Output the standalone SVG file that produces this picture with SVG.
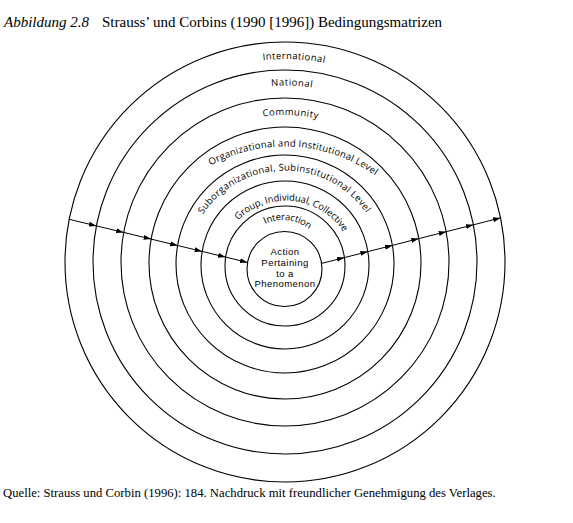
<svg xmlns="http://www.w3.org/2000/svg" width="573" height="523" viewBox="0 0 573 523">
<style>
.ring{fill:none;stroke:#000;stroke-width:1.1}
.lbl{font-family:"Open Sans","Noto Sans",sans-serif;font-size:9.5px;fill:#000}
.ctr{font-family:"Liberation Sans",Arial,sans-serif;font-size:9.5px;letter-spacing:0.45px;fill:#000;text-anchor:middle}
.cap{font-family:"Liberation Serif","Times New Roman",serif;fill:#000}
.conn{fill:none;stroke:#000;stroke-width:1;marker-mid:url(#ah);marker-end:url(#ah)}
</style>
<defs>
<marker id="ah" markerUnits="userSpaceOnUse" markerWidth="8" markerHeight="6" refX="7.5" refY="2.5" orient="auto">
<path d="M0,0 L7.5,2.5 L0,5 z" fill="#000"/>
</marker>
<path id="p8" d="M82,262 A203,203 0 0 1 488,262"/>
<path id="p7" d="M108.5,262 A176.5,176.5 0 0 1 461.5,262"/>
<path id="p6" d="M138,262 A147,147 0 0 1 432,262"/>
<path id="p5" d="M130,301.5 A155,155 0 0 1 440,301.5"/>
<path id="p4" d="M186,269.6 A99,99 0 0 1 384,269.6"/>
<path id="p3" d="M217.6,269 A68.4,68.4 0 0 1 354.4,269"/>
<path id="p2" d="M242,261 A41,41 0 0 1 324,261"/>
</defs>
<rect width="573" height="523" fill="#fff"/>
<text class="cap" x="4" y="27" font-size="15"><tspan font-style="italic">Abbildung 2.8</tspan><tspan x="102">Strauss’ und Corbins (1990 [1996]) Bedingungsmatrizen</tspan></text>

<g id="international">
<circle class="ring" cx="285" cy="262" r="220"/>
<text class="lbl" transform="rotate(2.5 285 262)"><textPath href="#p8" startOffset="50%" text-anchor="middle" textLength="62" lengthAdjust="spacing">International</textPath></text>
</g>
<g id="national">
<circle class="ring" cx="285" cy="262" r="192"/>
<text class="lbl" transform="rotate(2.2 285 262)"><textPath href="#p7" startOffset="50%" text-anchor="middle" textLength="41" lengthAdjust="spacing">National</textPath></text>
</g>
<g id="community">
<circle class="ring" cx="285" cy="262" r="164"/>
<text class="lbl" transform="rotate(2.1 285 262)"><textPath href="#p6" startOffset="50%" text-anchor="middle" textLength="55" lengthAdjust="spacing">Community</textPath></text>
</g>
<g id="organizational">
<circle class="ring" cx="285" cy="263" r="136"/>
<text class="lbl" transform="rotate(3.4 285 301.5)"><textPath href="#p5" startOffset="50%" text-anchor="middle" textLength="174" lengthAdjust="spacing">Organizational and Institutional Level</textPath></text>
</g>
<g id="suborganizational">
<circle class="ring" cx="285" cy="264" r="109"/>
<text class="lbl" transform="rotate(-0.6 285 269.6)"><textPath href="#p4" startOffset="50%" text-anchor="middle" textLength="192" lengthAdjust="spacing">Suborganizational, Subinstitutional Level</textPath></text>
</g>
<g id="group">
<circle class="ring" cx="285" cy="265" r="84"/>
<text class="lbl" transform="rotate(6.3 286 269)"><textPath href="#p3" startOffset="50%" text-anchor="middle" textLength="121" lengthAdjust="spacing">Group, Individual, Collective</textPath></text>
</g>
<g id="interaction">
<circle class="ring" cx="285" cy="266" r="60"/>
<text class="lbl" transform="rotate(6.75 283 261)"><textPath href="#p2" startOffset="50%" text-anchor="middle" textLength="46.6" lengthAdjust="spacing">Interaction</textPath></text>
</g>
<g id="action">
<circle class="ring" cx="284.5" cy="269" r="37.5"/>
<text class="ctr" x="285" y="255">Action</text>
<text class="ctr" x="285" y="265.8">Pertaining</text>
<text class="ctr" x="285" y="276.5">to a</text>
<text class="ctr" x="285" y="287.2">Phenomenon</text>
</g>

<g id="connectors">
<polyline class="conn" points="69.2,219.3 96.4,225.9 123.7,232.4 151.1,239.1 177.6,245.5 202.1,251.4 225.6,257.1 247.5,262.4"/>
<polyline class="conn" points="321.6,263.4 344.4,257.6 367.9,251.6 392.4,245.4 418.8,238.6 446.2,231.7 473.4,224.8 500.5,217.9"/>
</g>

<text class="cap" x="3" y="497" font-size="12.7">Quelle: Strauss und Corbin (1996): 184. Nachdruck mit freundlicher Genehmigung des Verlages.</text>
</svg>
